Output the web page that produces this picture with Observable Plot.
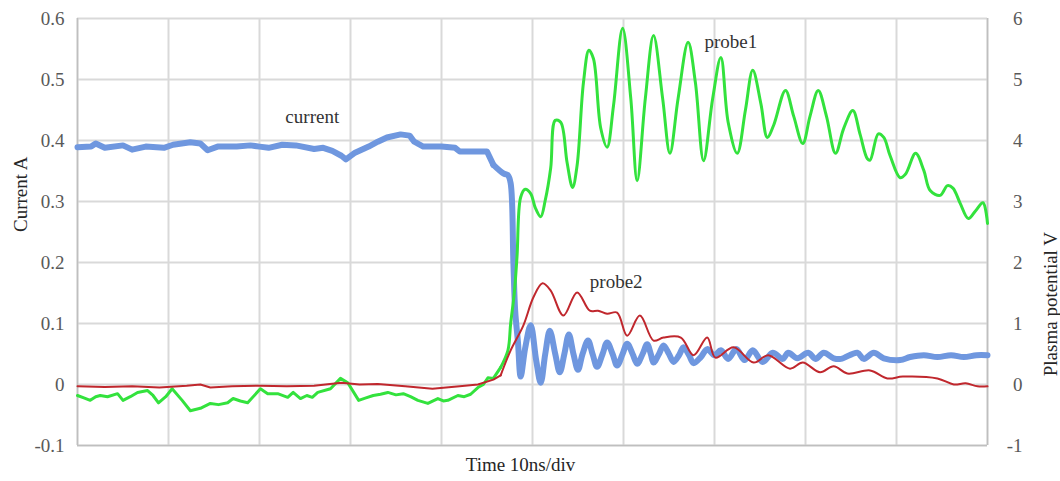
<!DOCTYPE html>
<html>
<head>
<meta charset="utf-8">
<script src="https://cdn.jsdelivr.net/npm/d3@7"></script>
<script src="https://cdn.jsdelivr.net/npm/@observablehq/plot@0.6"></script>
<style>
  html, body { margin: 0; padding: 0; background: #fff; }
  #chart svg { display: block; }
</style>
</head>
<body>
<div id="chart"></div>
<script>
// ---- data (time in ns, 10 ns per division) ----
const currentT = [0,1.5,2.0,3.0,5.0,6.0,7.5,9.5,10.5,12.4,13.5,14.3,15.4,17.5,19.0,20.0,21.0,22.5,24.0,26.0,27.0,28.0,29.0,29.5,30.5,32.0,33.0,34.0,35.5,36.5,37.0,38.0,40.0,41.5,42.0,45.0,45.7,46.8,47.3,47.6,47.9,48.1,48.4,48.7,49.2,49.8,50.4,50.9,51.4,51.9,52.5,53.0,53.5,54.0,54.5,55.0,55.5,56.1,56.6,57.1,57.7,58.2,58.8,59.3,59.9,60.4,61.0,61.5,62.1,62.6,63.0,63.3,63.9,64.4,65.0,65.5,66.1,66.6,67.2,67.7,68.5,69.2,70.0,70.7,71.5,72.4,73.3,74.2,75.3,76.4,77.5,78.1,79.1,80.3,81.1,82.0,83.1,83.9,85.7,86.4,87.5,88.6,90.4,91.5,93.0,94.5,96.0,97.4,98.8,100];
const currentA = [0.389,0.39,0.395,0.388,0.392,0.385,0.39,0.388,0.393,0.397,0.395,0.384,0.39,0.39,0.392,0.39,0.388,0.393,0.392,0.386,0.388,0.383,0.375,0.369,0.38,0.39,0.398,0.405,0.41,0.408,0.398,0.39,0.39,0.388,0.382,0.382,0.36,0.346,0.343,0.33,0.2,0.12,0.07,0.013,0.06,0.097,0.04,0.003,0.05,0.088,0.05,0.02,0.05,0.082,0.05,0.024,0.05,0.072,0.05,0.029,0.05,0.069,0.05,0.031,0.05,0.067,0.05,0.034,0.05,0.066,0.05,0.036,0.05,0.064,0.05,0.037,0.048,0.061,0.048,0.035,0.045,0.058,0.048,0.056,0.042,0.058,0.04,0.056,0.037,0.052,0.042,0.052,0.043,0.052,0.042,0.052,0.043,0.042,0.052,0.042,0.052,0.043,0.04,0.045,0.048,0.045,0.048,0.045,0.048,0.048];

const probe1T = [0,0.7,1.4,2.0,2.5,3.3,4.4,5.0,5.8,6.6,7.7,8.3,8.9,9.7,10.4,11.5,12.4,13.5,14.6,15.5,16.5,17.1,17.9,18.7,20.1,20.9,22.0,23.1,23.7,24.5,25.2,25.8,26.4,27.8,28.9,29.7,30.9,31.7,32.5,33.3,34.1,35.0,35.8,36.6,37.4,38.5,39.6,40.2,40.7,41.8,42.5,43.2,44.0,44.6,45.1,45.7,46.5,47.3,47.6,48.0,48.3,48.7,49.2,49.8,50.3,50.9,51.4,52.0,52.5,53.1,53.8,54.4,54.9,55.6,56.2,56.7,57.5,58.2,58.9,59.9,60.8,61.5,62.4,63.3,64.3,65.1,66.0,67.1,67.9,68.8,69.8,70.7,71.5,72.5,73.4,74.2,75.1,75.8,76.5,77.8,78.7,79.7,80.5,81.4,82.3,83.3,84.2,85.2,86.0,86.8,87.1,88.0,88.6,89.3,90.4,91.0,92.1,93.0,93.7,94.8,95.6,96.2,97.0,97.9,98.7,99.5,100];
const probe1V = [-0.18,-0.22,-0.26,-0.2,-0.18,-0.2,-0.15,-0.26,-0.2,-0.13,-0.10,-0.18,-0.30,-0.2,-0.07,-0.26,-0.43,-0.39,-0.31,-0.33,-0.30,-0.23,-0.27,-0.30,-0.07,-0.15,-0.15,-0.21,-0.13,-0.23,-0.18,-0.21,-0.13,-0.07,0.10,0.03,-0.26,-0.22,-0.18,-0.16,-0.13,-0.17,-0.15,-0.2,-0.26,-0.31,-0.23,-0.27,-0.26,-0.18,-0.2,-0.16,-0.05,0.0,0.11,0.10,0.28,0.56,1.0,1.5,2.1,3.07,3.2,3.13,2.9,2.75,3.02,3.55,4.33,4.3,3.64,3.23,3.59,4.95,5.48,5.34,4.2,3.89,4.57,5.84,4.69,3.34,4.69,5.72,4.69,3.79,4.69,5.61,4.95,3.67,4.69,5.36,4.3,3.79,4.5,5.15,4.6,4.05,4.25,4.82,4.4,3.95,4.4,4.82,4.4,3.79,4.2,4.49,4.1,3.7,3.68,4.11,4.05,3.75,3.39,3.45,3.79,3.51,3.18,3.1,3.26,3.22,2.97,2.72,2.85,2.98,2.64];

const probe2T = [0,3,6,9,12,13.5,14.6,17,20,23,26,29,31,33,36,39,42,44,45.7,46.5,47.6,49.0,50.1,51.1,52.0,53.4,54.9,56.3,57.2,58.2,59.3,60.4,61.8,63.3,64.4,66.3,67.7,69.2,70.1,72.1,74.3,75.9,78.3,79.7,81.6,83.1,84.6,87.1,89.0,90.7,94.5,96.3,97.6,98.9,100];
const probe2V = [-0.03,-0.04,-0.03,-0.05,-0.02,0,-0.05,-0.03,-0.02,-0.03,-0.02,0.03,0,0.01,-0.03,-0.07,-0.03,0,0.08,0.15,0.56,0.97,1.43,1.66,1.54,1.13,1.51,1.21,1.21,1.16,1.18,0.8,1.13,0.72,0.77,0.77,0.48,0.77,0.44,0.61,0.36,0.48,0.26,0.36,0.2,0.3,0.18,0.23,0.1,0.13,0.1,0,0.02,-0.03,-0.03];

const currentTicks = [-0.1,0,0.1,0.2,0.3,0.4,0.5,0.6];
const timeGrid = [0,10,20,30,40,50,60,70,80,90,100];
const seriesNames = ["current","probe1","probe2"];
const seriesLabelT = [25.8, 71.8, 59.2];
const seriesLabelValue = [0.439, 5.62, 1.69]; // current in A, probes in V
const seriesLabelIsVolt = [false, true, true];
const noisyUntil = 46.5; // before the transition the traces are drawn point-to-point

// ---- build tables ----
const VPA = 10; // right axis volts per left-axis amp
const current = currentT.map((t,i) => ({t, y: currentA[i]}));
const probe1 = probe1T.map((t,i) => ({t, y: probe1V[i] / VPA}));
const probe2 = probe2T.map((t,i) => ({t, y: probe2V[i] / VPA}));
const early = rows => rows.filter(d => d.t <= noisyUntil);
const late = rows => rows.filter((d, i) => d.t >= noisyUntil || (rows[i + 1] && rows[i + 1].t > noisyUntil));
const labels = seriesNames.map((name,i) => ({name, t: seriesLabelT[i], y: seriesLabelIsVolt[i] ? seriesLabelValue[i] / VPA : seriesLabelValue[i]}));

const fmt = d => String(+d.toFixed(2));
const font = "Liberation Serif, Times New Roman, serif";

const chart = Plot.plot({
  width: 1060,
  height: 481,
  marginLeft: 77,
  marginRight: 73,
  marginTop: 18,
  marginBottom: 36,
  style: {fontFamily: font, fontSize: "19px", background: "#fff"},
  x: {domain: [0, 100]},
  y: {domain: [-0.1, 0.6]},
  marks: [
    Plot.gridX(timeGrid, {stroke: "#d9d9d9", strokeOpacity: 1, strokeWidth: 2}),
    Plot.gridY(currentTicks, {stroke: "#d9d9d9", strokeOpacity: 1, strokeWidth: 2}),
    Plot.ruleX([0, 100], {stroke: "#bfbfbf", strokeWidth: 1.5}),
    Plot.ruleY([-0.1], {stroke: "#bfbfbf", strokeWidth: 1.5}),
    Plot.axisX({ticks: [], label: null, tickSize: 0}),
    Plot.axisY(currentTicks, {anchor: "left", tickSize: 0, tickPadding: 13, tickFormat: fmt, label: null, fill: "#595959", fontSize: 19}),
    Plot.axisY(currentTicks, {anchor: "right", tickSize: 0, tickPadding: 35, textAnchor: "end", tickFormat: d => fmt(d * VPA), label: null, fill: "#595959", fontSize: 19}),
    Plot.line(early(current), {x: "t", y: "y", stroke: "#6f97df", strokeWidth: 6, curve: "linear"}),
    Plot.line(late(current), {x: "t", y: "y", stroke: "#6f97df", strokeWidth: 6, curve: "catmull-rom"}),
    Plot.line(early(probe1), {x: "t", y: "y", stroke: "#33e23d", strokeWidth: 3, curve: "linear"}),
    Plot.line(late(probe1), {x: "t", y: "y", stroke: "#33e23d", strokeWidth: 3, curve: "catmull-rom"}),
    Plot.line(early(probe2), {x: "t", y: "y", stroke: "#c0272d", strokeWidth: 2, curve: "linear"}),
    Plot.line(late(probe2), {x: "t", y: "y", stroke: "#c0272d", strokeWidth: 2, curve: "catmull-rom"}),
    Plot.text(labels, {x: "t", y: "y", text: "name", fill: "#333", fontSize: 19}),
    Plot.text(["Current A"], {frameAnchor: "left", rotate: -90, dx: -57, fill: "#262626", fontSize: 19}),
    Plot.text(["Plasma potential V"], {frameAnchor: "right", rotate: -90, dx: 63, fill: "#262626", fontSize: 19}),
    Plot.text(["Time 10ns/div"], {frameAnchor: "bottom", dy: 25, dx: -12, fill: "#262626", fontSize: 19})
  ]
});
document.getElementById("chart").append(chart);
</script>
</body>
</html>
